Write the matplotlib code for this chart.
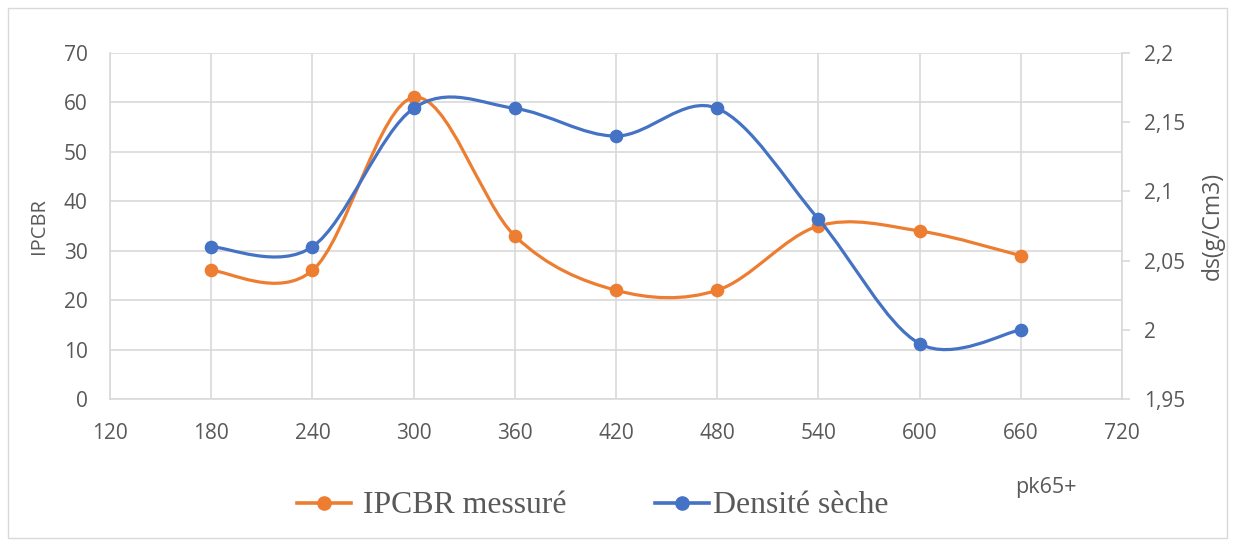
import numpy as np
import matplotlib
matplotlib.use("Agg")
import matplotlib.pyplot as plt
from matplotlib.path import Path
from matplotlib.patches import PathPatch
from matplotlib.lines import Line2D
from matplotlib.ticker import FuncFormatter

pk = [180, 240, 300, 360, 420, 480, 540, 600, 660]
ipcbr = [26, 26, 61, 33, 22, 22, 35, 34, 29]
densite = [2.06, 2.06, 2.16, 2.16, 2.14, 2.16, 2.08, 1.99, 2.00]
x_ticks = [120, 180, 240, 300, 360, 420, 480, 540, 600, 660, 720]
left_ticks = [0, 10, 20, 30, 40, 50, 60, 70]
right_ticks = [1.95, 2.0, 2.05, 2.1, 2.15, 2.2]
series_names = ["IPCBR messuré", "Densité sèche"]

ORANGE = "#ED7D31"
BLUE = "#4472C4"
GRID = "#D9D9D9"
TXT = "#595959"

plt.rcParams['font.family'] = ['Open Sans', 'DejaVu Sans']

W, H = 1235, 544


def smooth_path(x, y):
    x = np.asarray(x, float)
    y = np.asarray(y, float)
    n = len(x)
    verts = [(x[0], y[0])]
    codes = [Path.MOVETO]
    for i in range(n - 1):
        x0, y0 = (x[i - 1], y[i - 1]) if i > 0 else (x[i], y[i])
        x3, y3 = (x[i + 2], y[i + 2]) if i + 2 < n else (x[i + 1], y[i + 1])
        c1 = (x[i] + (x[i + 1] - x0) / 6, y[i] + (y[i + 1] - y0) / 6)
        c2 = (x[i + 1] - (x3 - x[i]) / 6, y[i + 1] - (y3 - y[i]) / 6)
        verts += [c1, c2, (x[i + 1], y[i + 1])]
        codes += [Path.CURVE4] * 3
    return Path(verts, codes)


fig = plt.figure(figsize=(W / 100, H / 100), dpi=100)
fig.patches.append(plt.Rectangle((8 / W, 1 - 538 / H), 1 - 16 / W, 530 / H,
                                 transform=fig.transFigure, fill=False, edgecolor=GRID, lw=1))

ax = fig.add_axes([110 / W, 1 - 399 / H, (1122 - 110) / W, (399 - 53) / H])
ax2 = ax.twinx()

ax.set_xlim(120, 720)
ax.set_ylim(0, 70)
ax2.set_ylim(1.95, 2.2)
ax.set_xticks(x_ticks)
ax.set_yticks(left_ticks)
ax2.set_yticks(right_ticks)
ax.grid(True, color=GRID, lw=1.2)
ax.set_axisbelow(True)

for a in (ax, ax2):
    for s in a.spines.values():
        s.set_visible(False)
for a, side in ((ax, 'left'), (ax, 'bottom'), (ax2, 'right')):
    a.spines[side].set_visible(True)
    a.spines[side].set_color(GRID)
    a.spines[side].set_linewidth(1.2)

ax.tick_params(axis='y', length=0, labelsize=15, colors=TXT, pad=16)
ax.tick_params(axis='x', length=0, labelsize=15, colors=TXT, pad=17)
ax2.tick_params(axis='y', length=6, width=1.2, color=GRID, labelsize=15, labelcolor=TXT, pad=10)

ax2.yaxis.set_major_formatter(FuncFormatter(lambda v, p: ('%g' % v).replace('.', ',')))

pw = 1122 - 110
ax.set_ylabel("IPCBR", fontsize=14.5, color=TXT)
ax.yaxis.set_label_coords((39 - 110) / pw, 0.5)
ax.yaxis.label.set_va('center')
ax2.set_ylabel("ds(g/Cm3)", fontsize=16.5, color=TXT, rotation=90)
ax2.yaxis.set_label_coords((1213 - 110) / pw, 0.5)
ax2.yaxis.label.set_va('center')

ax.add_patch(PathPatch(smooth_path(pk, ipcbr), fill=False, edgecolor=ORANGE, lw=2.3, zorder=3))
ax.plot(pk, ipcbr, 'o', color=ORANGE, ms=8.8, zorder=4)
ax2.add_patch(PathPatch(smooth_path(pk, densite), fill=False, edgecolor=BLUE, lw=2.3, zorder=3))
ax2.plot(pk, densite, 'o', color=BLUE, ms=8.8, zorder=4)

# legend (manual placement)
leg_y = 1 - 503 / H
base_y = 1 - 513 / H
for (x0, x1, tx), col, name in zip(((297, 351, 363), (655, 709, 713)), (ORANGE, BLUE), series_names):
    fig.lines.append(Line2D([x0 / W, x1 / W], [leg_y, leg_y], color=col, lw=2.6,
                            transform=fig.transFigure))
    fig.lines.append(Line2D([(x0 + x1) / 2 / W], [leg_y], color=col, marker='o', ms=9.5,
                            transform=fig.transFigure))
    fig.text(tx / W, base_y, name, fontsize=22.9, family='Liberation Serif', color=TXT,
             ha='left', va='baseline')

fig.text(1046 / W, 1 - 488 / H, "pk65+", fontsize=15.5, color=TXT, ha='center', va='center')

fig.savefig("out.png", dpi=100)
